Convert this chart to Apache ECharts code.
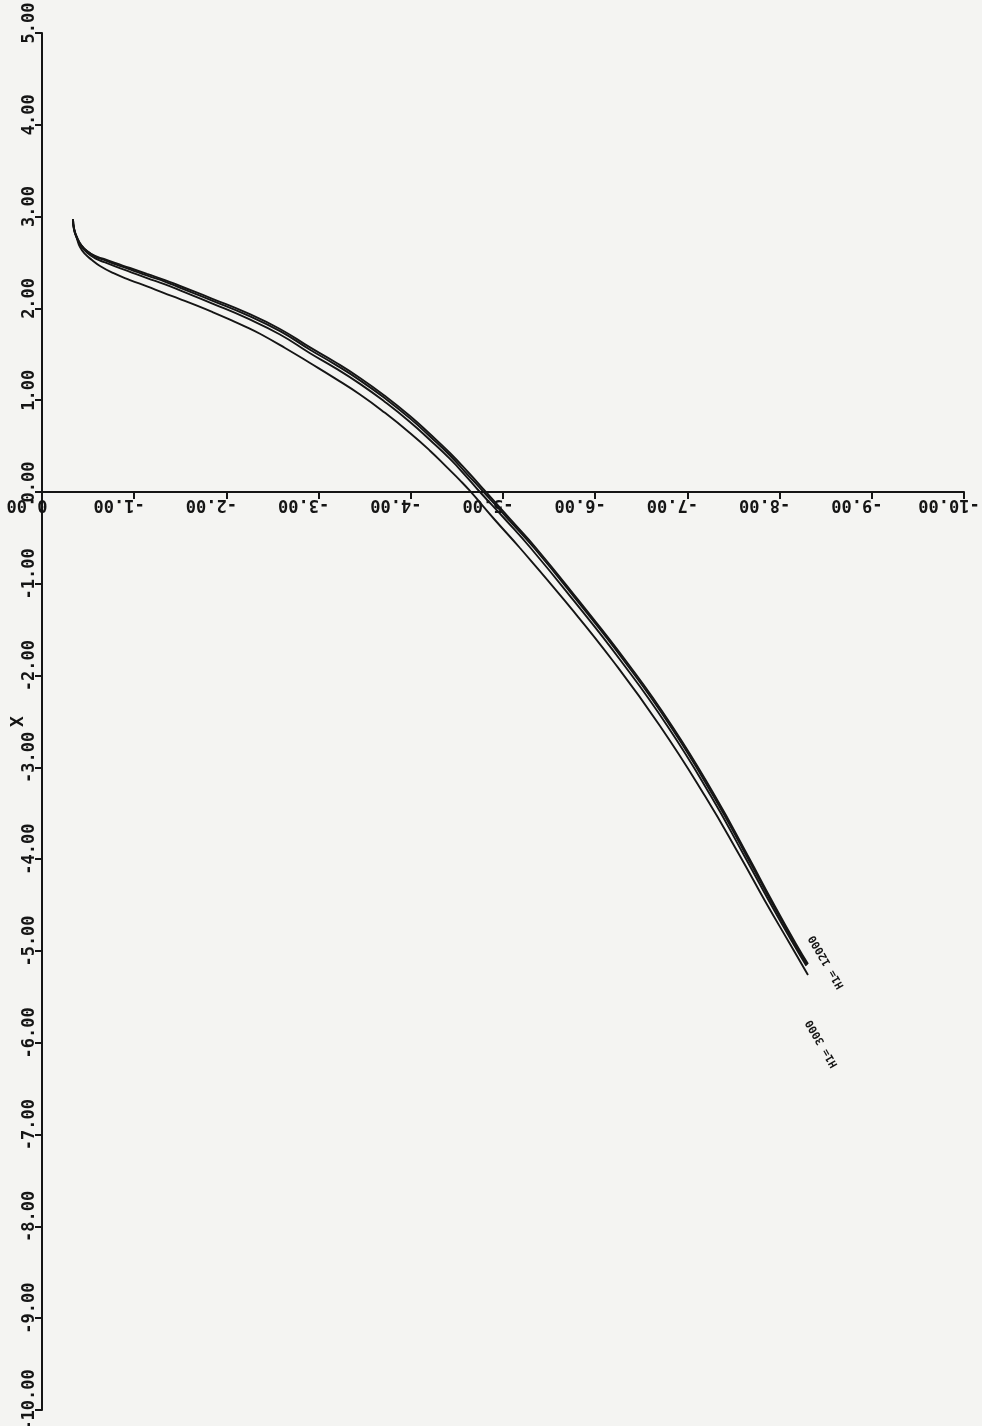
<!DOCTYPE html>
<html>
<head>
<meta charset="utf-8">
<script src="https://cdn.jsdelivr.net/npm/echarts@6/dist/echarts.min.js"></script>
<style>
  html, body { margin: 0; padding: 0; background: #f4f4f2; }
  #chart { width: 982px; height: 1426px; }
</style>
</head>
<body>
<div id="chart"></div>
<script>
// Tick labels of the two axes
const hTickLabels = ['0.00', '-1.00', '-2.00', '-3.00', '-4.00', '-5.00', '-6.00', '-7.00', '-8.00', '-9.00', '-10.00'];
const xTickLabels = ['5.00', '4.00', '3.00', '2.00', '1.00', '0.00', '-1.00', '-2.00', '-3.00', '-4.00', '-5.00', '-6.00', '-7.00', '-8.00', '-9.00', '-10.00'];

// Trajectories [horizontal, X] for each H1 value
const pathH1_12000 = [
  [-0.336, 2.974], [-0.347, 2.865], [-0.380, 2.767], [-0.423, 2.691], [-0.488, 2.625],
  [-0.575, 2.571], [-0.672, 2.538], [-0.792, 2.495], [-0.954, 2.440], [-1.139, 2.375],
  [-1.334, 2.309], [-1.497, 2.244], [-1.855, 2.102], [-2.223, 1.950], [-2.581, 1.776],
  [-2.907, 1.575], [-3.178, 1.416], [-3.449, 1.242], [-3.720, 1.046], [-3.991, 0.828],
  [-4.208, 0.632], [-4.425, 0.425], [-4.620, 0.218], [-4.805, 0.011], [-5.076, -0.294],
  [-5.358, -0.610], [-5.824, -1.187], [-6.334, -1.841], [-6.833, -2.549], [-7.299, -3.312],
  [-7.657, -3.965], [-7.918, -4.455], [-8.178, -4.924], [-8.308, -5.142]
];
const pathH1_9000 = [
  [-0.336, 2.974], [-0.349, 2.866], [-0.384, 2.766], [-0.428, 2.688], [-0.494, 2.620],
  [-0.582, 2.562], [-0.679, 2.526], [-0.799, 2.480], [-0.960, 2.423], [-1.144, 2.356],
  [-1.338, 2.290], [-1.500, 2.224], [-1.858, 2.080], [-2.225, 1.927], [-2.582, 1.752],
  [-2.907, 1.550], [-3.178, 1.390], [-3.449, 1.216], [-3.720, 1.020], [-3.991, 0.802],
  [-4.208, 0.605], [-4.425, 0.398], [-4.610, 0.195], [-4.780, 0.011], [-5.055, -0.294],
  [-5.338, -0.610], [-5.806, -1.187], [-6.315, -1.841], [-6.815, -2.549], [-7.282, -3.312],
  [-7.642, -3.965], [-7.905, -4.455], [-8.166, -4.924], [-8.300, -5.150]
];
const pathH1_6000 = [
  [-0.336, 2.974], [-0.347, 2.862], [-0.381, 2.760], [-0.425, 2.678], [-0.490, 2.605],
  [-0.577, 2.545], [-0.674, 2.505], [-0.794, 2.458], [-0.954, 2.398], [-1.139, 2.330],
  [-1.334, 2.262], [-1.497, 2.196], [-1.855, 2.050], [-2.223, 1.893], [-2.581, 1.716],
  [-2.907, 1.512], [-3.178, 1.352], [-3.449, 1.178], [-3.720, 0.981], [-3.991, 0.763],
  [-4.208, 0.567], [-4.425, 0.360], [-4.610, 0.160], [-4.740, 0.011], [-5.020, -0.294],
  [-5.300, -0.610], [-5.770, -1.187], [-6.280, -1.841], [-6.783, -2.549], [-7.255, -3.312],
  [-7.618, -3.965], [-7.885, -4.455], [-8.150, -4.924], [-8.290, -5.160]
];
const pathH1_3000 = [
  [-0.336, 2.974], [-0.347, 2.865], [-0.380, 2.756], [-0.412, 2.669], [-0.466, 2.593],
  [-0.542, 2.527], [-0.629, 2.462], [-0.770, 2.386], [-0.954, 2.309], [-1.139, 2.240],
  [-1.312, 2.172], [-1.497, 2.102], [-1.681, 2.030], [-1.855, 1.958], [-2.039, 1.878],
  [-2.223, 1.794], [-2.364, 1.724], [-2.636, 1.569], [-2.907, 1.405], [-3.178, 1.238],
  [-3.449, 1.062], [-3.720, 0.862], [-3.991, 0.643], [-4.208, 0.450], [-4.393, 0.268],
  [-4.534, 0.127], [-4.642, 0.011], [-4.913, -0.305], [-5.184, -0.610], [-5.672, -1.187],
  [-6.193, -1.841], [-6.703, -2.549], [-7.191, -3.312], [-7.570, -3.965], [-7.842, -4.455],
  [-8.113, -4.924], [-8.308, -5.261]
];

const INK = '#151515';
const FONT = '"DejaVu Sans Mono", "Liberation Mono", monospace';

// Plot frame (pixels)
const GRID_TOP = 33, GRID_HEIGHT = 1377, Y_MIN = -10, Y_MAX = 5;

function tickText(labels, first) {
  return v => labels[Math.round(first - v)] ?? '';
}

function curve(name, data, tag) {
  const s = {
    name, type: 'line', data,
    showSymbol: false, smooth: 0.5, silent: true,
    lineStyle: { color: INK, width: 1.9 },
    z: 3
  };
  if (tag) {
    s.markPoint = {
      symbol: 'circle', symbolSize: 0, silent: true,
      data: [{ coord: tag.coord, value: tag.text }],
      label: {
        show: true, position: 'inside', rotate: 120,
        formatter: tag.text, color: INK,
        fontFamily: FONT, fontWeight: 'bold', fontSize: 11
      }
    };
  }
  return s;
}

// the horizontal axis sits on the X = 0 level
const zeroFromBottom = GRID_HEIGHT * (0 - Y_MIN) / (Y_MAX - Y_MIN);

const chart = echarts.init(document.getElementById('chart'), null, { renderer: 'canvas' });

chart.setOption({
  backgroundColor: '#f4f4f2',
  animation: false,
  grid: {
    left: 42, top: GRID_TOP, width: 922, height: GRID_HEIGHT,
    containLabel: false, outerBoundsMode: 'none'
  },
  xAxis: {
    type: 'value', min: -10, max: 0, interval: 1, inverse: true,
    position: 'bottom', offset: -zeroFromBottom,
    splitLine: { show: false },
    axisLine: { onZero: false, lineStyle: { color: INK, width: 2 } },
    axisTick: { show: true, length: 7, lineStyle: { color: INK, width: 2 } },
    axisLabel: {
      show: true, rotate: 180, margin: 4,
      showMinLabel: true, showMaxLabel: true, hideOverlap: false,
      padding: [0, 0, 0, 30],
      color: INK, fontFamily: FONT, fontWeight: 'bold', fontSize: 17,
      formatter: tickText(hTickLabels, 0)
    }
  },
  yAxis: {
    type: 'value', min: Y_MIN, max: Y_MAX, interval: 1,
    name: 'X', nameLocation: 'middle', nameGap: 15, nameRotate: 90,
    nameMoveOverlap: false,
    nameTextStyle: { color: INK, fontFamily: FONT, fontWeight: 'bold', fontSize: 18 },
    splitLine: { show: false },
    axisLine: { onZero: false, lineStyle: { color: INK, width: 2 } },
    axisTick: { show: true, length: 7, lineStyle: { color: INK, width: 2 } },
    axisLabel: {
      show: true, rotate: 90, margin: 4,
      showMinLabel: true, showMaxLabel: true, hideOverlap: false,
      padding: [0, 0, 0, 20],
      color: INK, fontFamily: FONT, fontWeight: 'bold', fontSize: 17,
      formatter: tickText(xTickLabels, 5)
    }
  },
  series: [
    curve('H1= 3000', pathH1_3000, { text: 'H1= 3000', coord: [-8.46, -6.01] }),
    curve('H1= 6000', pathH1_6000),
    curve('H1= 9000', pathH1_9000),
    curve('H1= 12000', pathH1_12000, { text: 'H1= 12000', coord: [-8.51, -5.12] })
  ]
});
</script>
</body>
</html>
